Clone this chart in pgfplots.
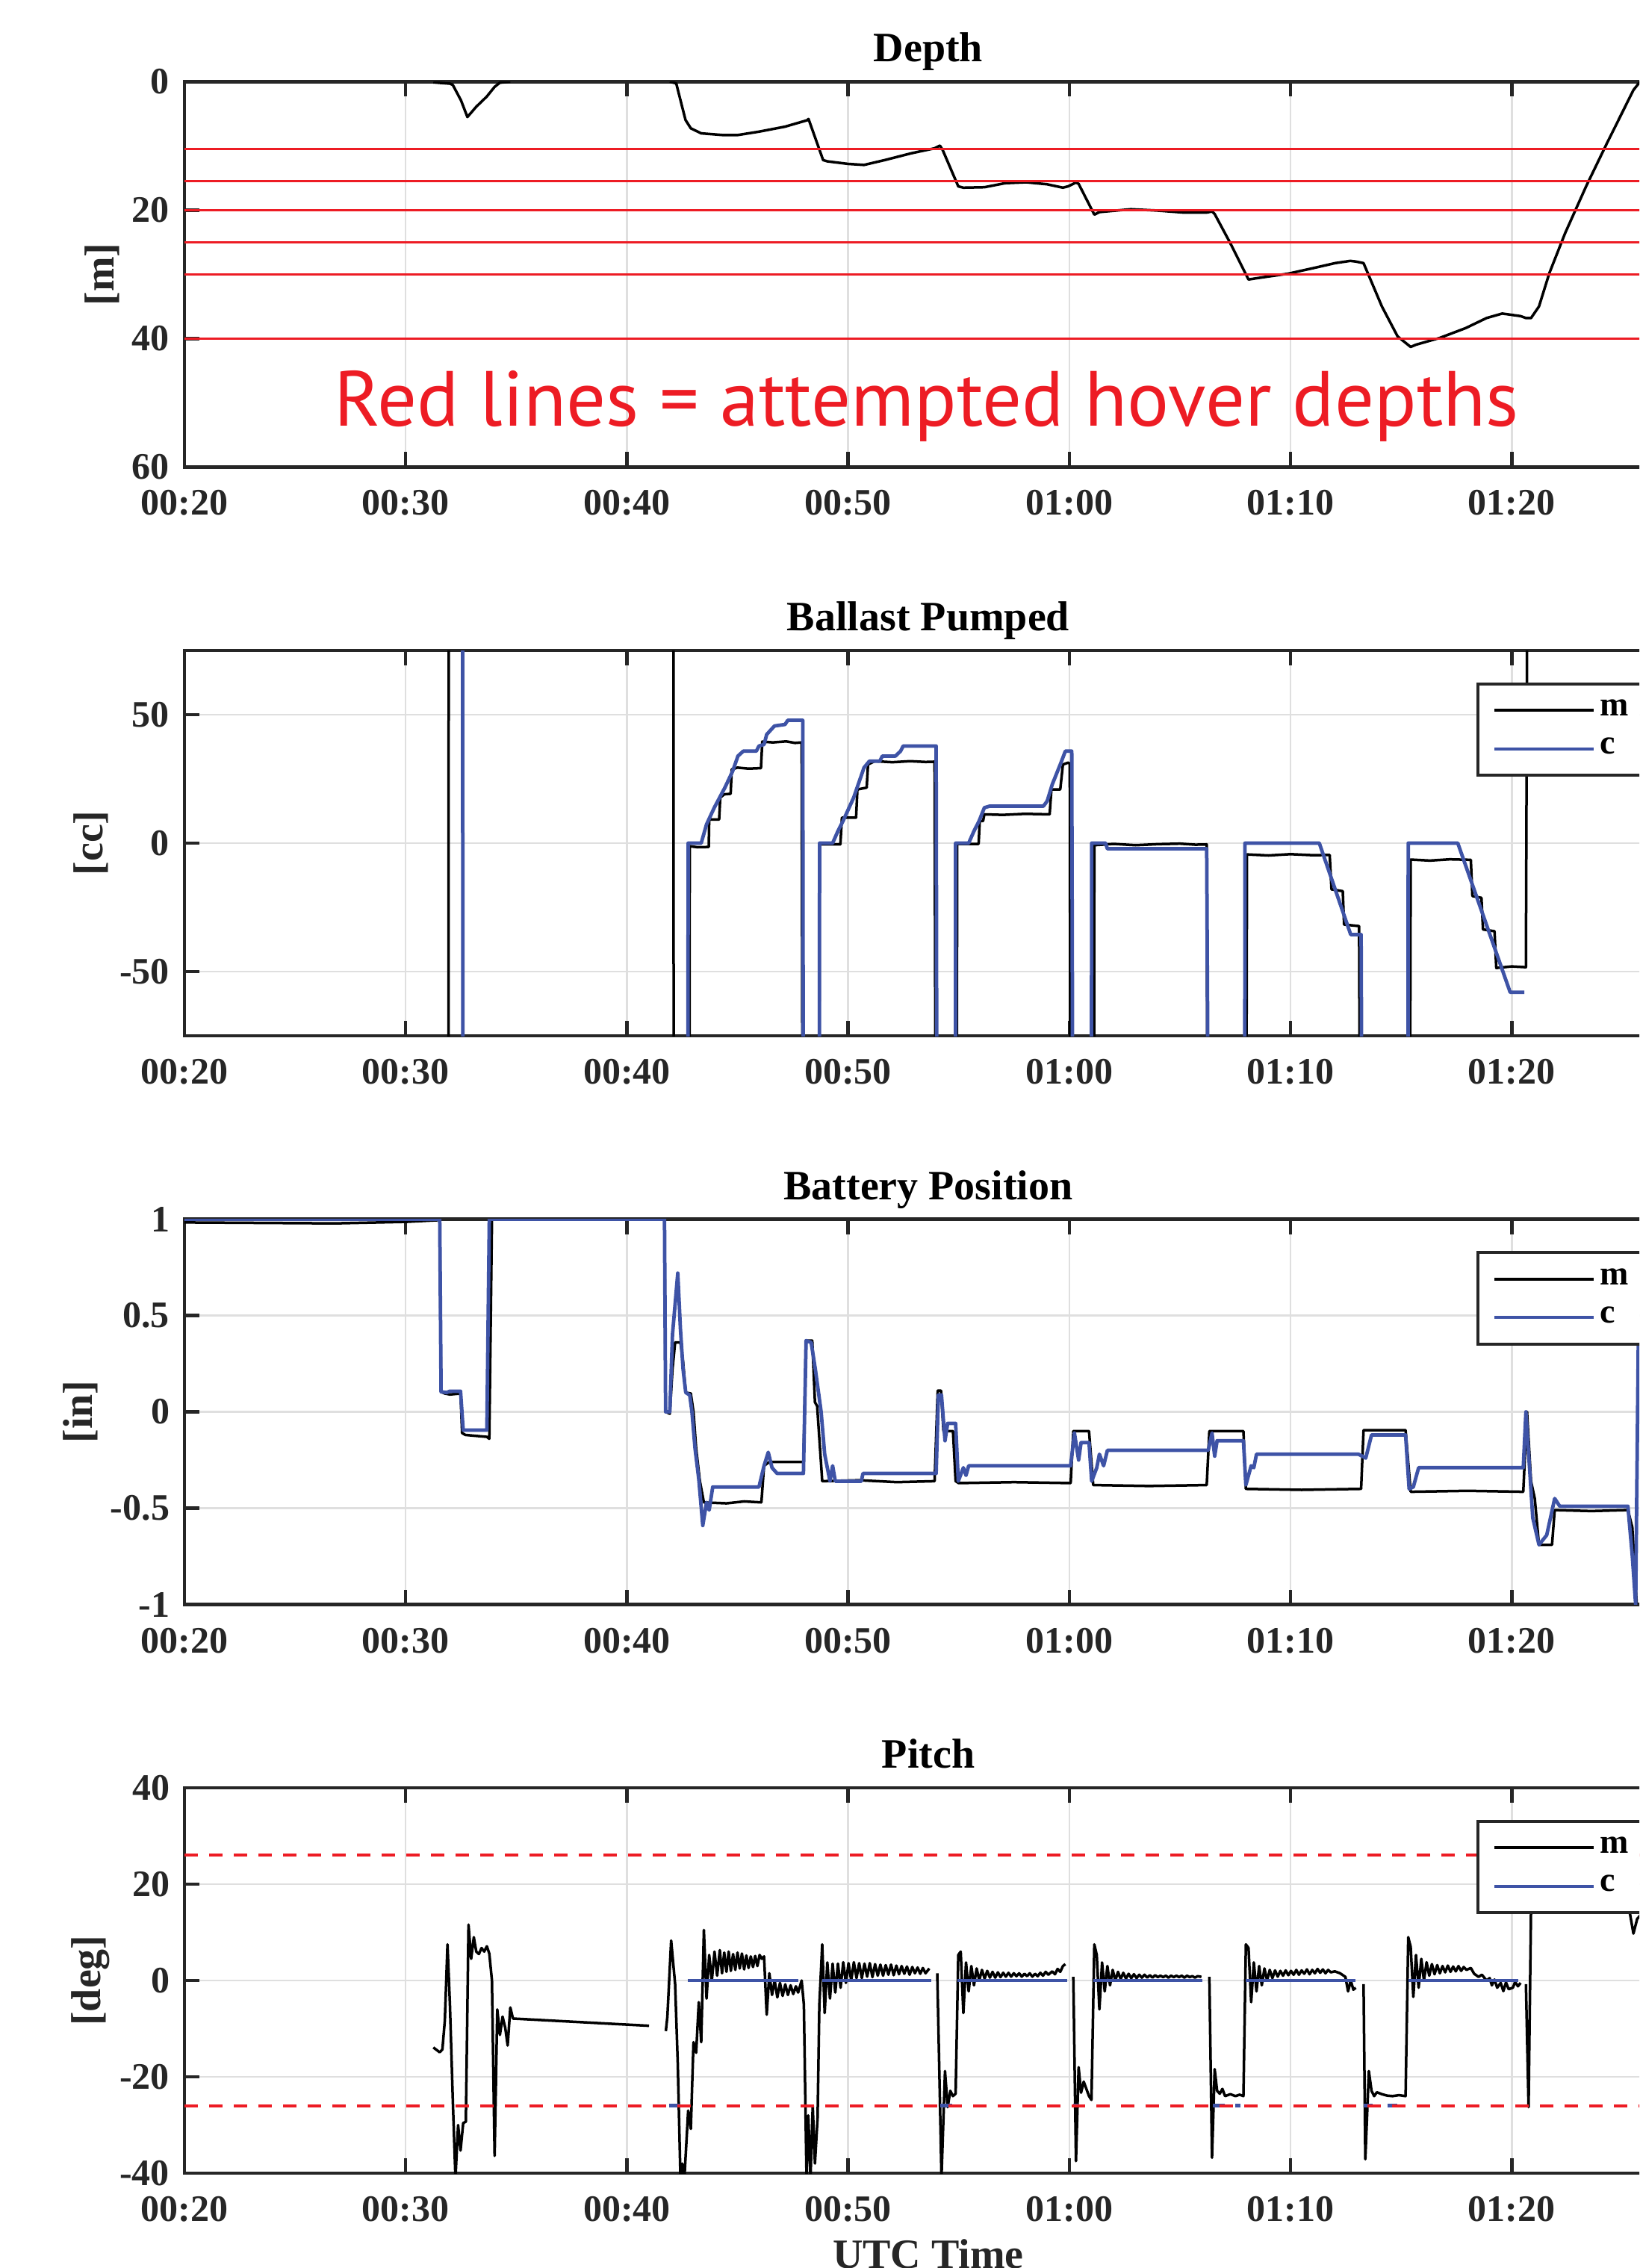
\documentclass[border=0pt]{standalone}
\usepackage{pgfplots}
\pgfplotsset{compat=1.18}
\usepackage{fontspec}
\setmainfont{Liberation Serif}
\newfontfamily\annfont{PT Sans}
\definecolor{axgray}{RGB}{38,38,38}
\definecolor{gridgray}{RGB}{223,223,223}
\definecolor{cblue}{RGB}{62,83,166}
\definecolor{annred}{RGB}{237,28,36}
\pgfplotsset{
  hov/.style={
    scale only axis, width=398.4pt, height=103.2pt, anchor=north west,
    xmin=20, xmax=87.25,
    xtick={20,30,40,50,60,70,80},
    xticklabels={00:20,00:30,00:40,00:50,01:00,01:10,01:20},
    tick pos=both, tick align=inside, major tick length=4pt,
    axis line style={color=axgray, line width=0.9pt},
    every tick/.style={color=axgray, line width=0.9pt},
    xmajorgrids, ymajorgrids,
    major grid style={color=gridgray, line width=0.5pt},
    tick label style={font=\fontsize{10}{12}\selectfont\bfseries, text=axgray},
    xticklabel style={anchor=base, yshift=-12.9pt},
    yticklabel style={anchor=east, inner sep=0pt, xshift=-3.8pt},
    every axis title/.style={font=\fontsize{11.2}{13}\selectfont\bfseries, at={(0.5,1)}, anchor=base, yshift=5.3pt},
    label style={font=\fontsize{11.2}{13}\selectfont\bfseries, text=axgray},
    ylabel style={anchor=center},
    unbounded coords=jump,
    legend style={at={(0.8685,0.917)}, anchor=north west, draw=axgray, line width=0.8pt, fill=white,
      font=\fontsize{9.2}{10}\selectfont\bfseries, inner xsep=4pt, inner ysep=3pt, row sep=2pt,
      nodes={inner sep=1.2pt}},
    legend cell align=left,
    legend image code/.code={\draw[#1, line width=0.8pt] (0pt,0pt) -- (26.6pt,0pt);},
  },
  mline/.style={black, line width=0.7pt, line join=round},
  cline/.style={cblue, line width=0.95pt, line join=round},
}
\begin{document}
\begin{tikzpicture}
\path[use as bounding box] (0,0) rectangle (439pt,-607.4pt);
\clip (0,0) rectangle (439pt,-607.4pt);

% ---------------- Depth
\begin{axis}[hov, at={(49.4pt,-21.88pt)}, y dir=reverse, ymin=0, ymax=60,
  ytick={0,20,40,60}, yticklabels={0,20,40,60}, title={Depth}, ylabel={[m]},
  ylabel style={at={(axis description cs:-0.0552,0.5)}}]
\addplot[mline] coordinates {
(31.25,0.1)(31.6,0.2)(32.0,0.3)(32.13,0.5)(32.5,2.9)(32.79,5.5)(33.19,3.9)(33.67,2.3)(34.02,0.8)(34.26,0.15)(34.73,0.0)
(38,nan)
(41.94,0)(42.23,0.26)(42.42,2.85)(42.65,5.96)(42.89,7.26)(43.36,8.04)(44.31,8.3)(45.02,8.3)(45.97,7.78)(47.15,7.0)(48.15,6.0)(48.21,5.8)(48.87,12.2)(49.06,12.4)(50.0,12.8)(50.72,12.96)(51.66,12.2)(52.85,11.15)(53.91,10.37)(54.15,9.95)(54.27,10.6)(54.98,16.3)(55.21,16.5)(56.16,16.43)(57.1,15.8)(58.05,15.66)(58.99,15.97)(59.71,16.5)(59.94,16.3)(60.3,15.7)(60.42,15.9)(61.13,20.7)(61.36,20.3)(62.78,19.86)(63.96,20.06)(65.15,20.37)(66.21,20.37)(66.45,20.2)(66.57,20.6)(67.27,25.1)(68.1,30.8)(68.46,30.6)(69.88,29.9)(71.06,29.0)(72.01,28.25)(72.7,27.9)(72.95,28.0)(73.3,28.25)(74.13,35.0)(74.84,39.66)(75.43,41.3)(75.67,40.95)(76.74,39.9)(77.92,38.36)(78.86,36.8)(79.57,36.1)(80.4,36.5)(80.64,36.8)(80.87,36.8)(81.23,35.0)(81.7,29.8)(82.41,23.6)(83.36,16.3)(84.3,9.6)(85.5,1.3)(85.8,0)
};
\addplot[annred, line width=0.5pt, forget plot] coordinates {(20,10.5)(90,10.5)};
\addplot[annred, line width=0.5pt, forget plot] coordinates {(20,15.5)(90,15.5)};
\addplot[annred, line width=0.5pt, forget plot] coordinates {(20,20)(90,20)};
\addplot[annred, line width=0.5pt, forget plot] coordinates {(20,25)(90,25)};
\addplot[annred, line width=0.5pt, forget plot] coordinates {(20,30)(90,30)};
\addplot[annred, line width=0.5pt, forget plot] coordinates {(20,40)(90,40)};
\node[anchor=base, text=annred, inner sep=0pt] at (axis cs:53.55,53.6)
  {\resizebox{317.2pt}{!}{\annfont\fontsize{20}{24}\selectfont Red lines = attempted hover depths}};
\end{axis}

% ---------------- Ballast
\begin{axis}[hov, at={(49.4pt,-174.2pt)}, ymin=-75, ymax=75,
  ytick={-50,0,50}, yticklabels={-50,0,50}, title={Ballast Pumped}, ylabel={[cc]},
  ylabel style={at={(axis description cs:-0.0628,0.5)}}]
\addplot[mline] coordinates {
(20,-200)(31.93,-200)(31.95,200)(42.1,200)(42.12,-200)(42.82,-200)(42.84,-1.2)(43.2,-1.6)(43.7,-1.5)(43.72,9.2)(44.17,9.2)(44.22,17.7)(44.4,19)(44.69,19.2)(44.74,28.7)(45.0,29.4)(45.5,29.0)(46.06,29.2)(46.12,39.5)(46.6,39.2)(47.2,39.6)(47.6,39.0)(47.9,39.2)(47.96,-200)
(48.69,-200)(48.71,0)(48.8,-0.5)(49.65,-0.5)(49.72,9.9)(50.36,9.9)(50.42,20.9)(50.84,21.6)(50.9,30.6)(51.2,31.9)(52.0,31.5)(52.8,31.9)(53.5,31.6)(53.91,31.7)(53.98,-200)
(54.9,-200)(54.93,-0.3)(55.9,-0.3)(55.95,8.6)(56.1,8.6)(56.16,11.2)(57.0,11.0)(58.0,11.4)(59.11,11.2)(59.19,20.9)(59.59,20.9)(59.71,30.6)(59.94,31.3)(60.02,31.0)(60.06,-200)
(61.1,-200)(61.13,-0.8)(62.0,-0.3)(63.0,-0.8)(64.0,-0.4)(65.0,-0.2)(65.7,-0.6)(66.21,-0.5)(66.26,-200)
(67.98,-200)(68.03,-4.4)(69.0,-4.8)(70.0,-4.3)(71.0,-4.7)(71.77,-4.6)(71.85,-18)(72.36,-18.7)(72.42,-31.7)(73.1,-32.3)(73.17,-200)
(75.38,-200)(75.43,-6.4)(76.3,-6.8)(77.2,-6.3)(78.15,-6.5)(78.22,-20.6)(78.63,-21.3)(78.7,-33.6)(79.22,-34.3)(79.3,-48.6)(80.0,-48.0)(80.64,-48.3)(80.74,200)
};
\addplot[cline] coordinates {
(20,200)(32.56,200)(32.6,-200)(42.75,-200)(42.77,0)(43.36,0)(43.6,7.3)(43.95,13.8)(44.43,21.6)(44.78,28)(45.02,33.9)(45.26,35.8)(45.85,35.8)(45.97,37.8)(46.2,38.4)(46.32,42.3)(46.67,45.6)(47.15,46.2)(47.27,47.8)(47.95,47.8)(47.99,-200)
(48.69,-200)(48.71,0)(49.3,0)(49.54,4.7)(49.77,8.6)(50.25,17.7)(50.72,29.4)(50.96,31.9)(51.43,31.9)(51.55,33.9)(52.14,33.9)(52.37,35.8)(52.49,37.8)(53.98,37.8)(54.03,-200)
(54.84,-200)(54.86,0)(55.45,0)(55.69,4.7)(55.92,8.6)(56.16,13.8)(56.4,14.4)(58.83,14.4)(59.0,16.4)(59.23,22.9)(59.59,30.6)(59.82,35.8)(60.11,35.8)(60.18,-200)
(60.99,-200)(61.01,0)(61.64,0)(61.72,-2.2)(66.21,-2.2)(66.33,-200)
(67.92,-200)(67.94,0)(71.3,0)(72.72,-35.6)(73.19,-35.6)(73.26,-200)
(75.3,-200)(75.32,0)(77.56,0)(79.93,-58.1)(80.57,-58.1)
};
\legend{m,c}
\end{axis}

% ---------------- Battery
\begin{axis}[hov, at={(49.4pt,-326.5pt)}, ymin=-1, ymax=1,
  ytick={-1,-0.5,0,0.5,1}, yticklabels={-1,-0.5,0,0.5,1}, title={Battery Position}, ylabel={[in]},
  ylabel style={at={(axis description cs:-0.0700,0.5)}}]
\addplot[mline] coordinates {
(20,0.983)(26.8,0.978)(30.0,0.986)(31.54,0.995)(31.6,0.104)(31.77,0.095)(32.0,0.09)(32.48,0.095)(32.55,-0.11)(32.7,-0.12)(33.67,-0.13)(33.78,-0.14)(33.9,1.0)(41.7,1.0)(41.75,0.0)(41.94,-0.01)(42.06,0.22)(42.18,0.36)(42.42,0.36)(42.54,0.26)(42.66,0.1)(42.89,0.095)(43.01,0.0)(43.13,-0.19)(43.3,-0.36)(43.48,-0.47)(44.5,-0.475)(45.3,-0.465)(46.08,-0.47)(46.2,-0.28)(46.44,-0.26)(47.98,-0.26)(48.1,0.37)(48.38,0.37)(48.5,0.05)(48.6,0.03)(48.83,-0.36)(50.5,-0.355)(52.2,-0.365)(53.91,-0.36)(54.05,0.11)(54.2,0.11)(54.31,-0.1)(54.74,-0.1)(54.86,-0.36)(55.0,-0.37)(57.5,-0.365)(60.06,-0.37)(60.18,-0.1)(60.89,-0.1)(61.08,-0.38)(63.6,-0.385)(66.21,-0.38)(66.33,-0.1)(67.87,-0.1)(67.98,-0.4)(70.5,-0.405)(73.19,-0.4)(73.3,-0.095)(75.2,-0.095)(75.43,-0.415)(78.0,-0.41)(80.52,-0.415)(80.69,0.0)(80.87,-0.36)(81.04,-0.45)(81.23,-0.69)(81.82,-0.69)(81.94,-0.51)(83.6,-0.515)(85.25,-0.51)(85.45,-0.6)(85.65,-1.0)
};
\addplot[cline] coordinates {
(20,1)(31.54,1)(31.6,0.104)(31.85,0.1)(32.0,0.107)(32.48,0.107)(32.6,-0.095)(33.67,-0.095)(33.78,1)(41.7,1)(41.75,0)(41.94,0)(42.06,0.4)(42.3,0.72)(42.42,0.43)(42.54,0.22)(42.66,0.1)(42.84,0.087)(42.94,0)(43.08,-0.19)(43.25,-0.35)(43.43,-0.59)(43.6,-0.47)(43.72,-0.51)(43.88,-0.39)(45.97,-0.39)(46.2,-0.28)(46.39,-0.21)(46.56,-0.29)(46.79,-0.32)(47.98,-0.32)(48.1,0.37)(48.33,0.36)(48.52,0.22)(48.78,0)(48.94,-0.22)(49.06,-0.29)(49.18,-0.36)(49.3,-0.28)(49.42,-0.36)(50.6,-0.36)(50.67,-0.32)(53.98,-0.32)(54.08,0.087)(54.22,0.087)(54.38,-0.15)(54.5,-0.06)(54.86,-0.06)(54.98,-0.36)(55.21,-0.29)(55.33,-0.33)(55.45,-0.28)(60.06,-0.28)(60.23,-0.11)(60.42,-0.25)(60.53,-0.16)(60.89,-0.16)(61.01,-0.36)(61.24,-0.29)(61.36,-0.22)(61.55,-0.28)(61.72,-0.2)(66.28,-0.2)(66.45,-0.11)(66.57,-0.23)(66.68,-0.15)(67.87,-0.15)(67.98,-0.38)(68.22,-0.28)(68.34,-0.29)(68.46,-0.22)(73.07,-0.22)(73.4,-0.24)(73.66,-0.12)(75.2,-0.12)(75.36,-0.4)(75.55,-0.39)(75.79,-0.29)(80.52,-0.29)(80.64,0.0)(80.87,-0.41)(80.95,-0.55)(81.23,-0.69)(81.58,-0.64)(81.94,-0.45)(82.17,-0.49)(85.25,-0.49)(85.45,-0.75)(85.6,-1.0)(85.72,0.36)
};
\legend{m,c}
\end{axis}

% ---------------- Pitch
\begin{axis}[hov, at={(49.4pt,-478.8pt)}, ymin=-40, ymax=40,
  ytick={-40,-20,0,20,40}, yticklabels={-40,-20,0,20,40}, title={Pitch}, ylabel={[deg]},
  ylabel style={at={(axis description cs:-0.0629,0.5)}},
  xlabel={UTC Time}, xlabel style={at={(axis description cs:0.5,0)}, anchor=base, yshift=-25.4pt}]
\addplot[mline] coordinates {
(31.25,-13.9)(31.54,-14.9)(31.66,-14.3)(31.77,-8.3)(31.89,7.5)(32.0,-5)(32.13,-24.8)(32.25,-41)(32.37,-30)(32.48,-35.3)(32.6,-29.6)(32.72,-29.3)(32.84,11.6)(32.96,4.5)(33.08,9)(33.19,6)(33.31,5.5)(33.43,6.75)(33.55,6)(33.67,7.1)(33.78,5.6)(33.9,0)(34.02,-36.4)(34.14,-6)(34.26,-11.3)(34.38,-7.5)(34.5,-9.8)(34.61,-13.5)(34.73,-5.6)(34.85,-7.9)(41.0,-9.4)
(41.3,nan)
(41.76,-10.5)(41.83,-7.5)(42.0,8.3)(42.18,-0.75)(42.3,-17.3)(42.42,-41)(42.5,-38)(42.6,-41)(42.77,-27)(42.89,-30.8)(43.01,-12.8)(43.13,-15)(43.25,-4.5)(43.36,-12.8)(43.48,10.5)(43.6,-3.75)(43.72,5.3)(43.84,0)(43.96,6)(44.08,1)(44.2,6.3)(44.3,1.5)(44.4,5.8)(44.5,1.8)(44.6,6.0)(44.7,2.0)(44.8,5.5)(44.9,2.2)(45.0,5.8)(45.1,2.5)(45.2,5.6)(45.3,2.3)(45.4,5.2)(45.5,2.6)(45.6,5.0)(45.7,2.8)(45.8,5.1)(45.9,3.0)(46.0,5.3)(46.1,4.5)(46.2,5.0)(46.32,-7.1)(46.44,1.5)(46.56,-3)(46.68,0)(46.8,-3.5)(46.92,-0.5)(47.04,-3.2)(47.16,-0.8)(47.28,-3)(47.4,-1)(47.52,-2.8)(47.64,-1.2)(47.74,-2.5)(47.9,0)(48.0,-5)(48.12,-41)(48.2,-28)(48.3,-41)(48.4,-26)(48.5,-38)(48.62,-28.5)(48.7,-5)(48.83,7.5)(48.94,-6.75)(49.06,3.75)(49.18,-3.75)(49.3,3.5)(49.42,-2.5)(49.54,3.5)(49.66,-1.5)(49.78,3.8)(49.9,-0.5)(50.02,3.6)(50.14,0)(50.26,3.8)(50.38,0.5)(50.5,3.6)(50.62,0.5)(50.74,3.5)(50.86,0.8)(50.98,3.6)(51.1,0.7)(51.22,3.4)(51.34,1)(51.46,3.3)(51.58,1)(51.7,3.2)(51.82,1.2)(51.94,3.3)(52.06,1.1)(52.18,3.1)(52.3,1.3)(52.42,3)(52.54,1.4)(52.66,2.9)(52.78,1.2)(52.9,2.8)(53.02,1.5)(53.14,2.7)(53.26,1.4)(53.38,2.6)(53.5,1.5)(53.67,2.5)
(53.85,nan)
(54.03,1.5)(54.15,-24.8)(54.22,-41)(54.38,-18.8)(54.5,-26.3)(54.62,-22.9)(54.74,-24)(54.86,-23.5)(54.98,5.3)(55.09,6)(55.21,-6.75)(55.33,3.75)(55.45,-2.25)(55.57,3)(55.69,-1)(55.81,2.5)(55.93,0)(56.05,2.2)(56.17,0.4)(56.29,2.0)(56.41,0.6)(56.53,1.8)(56.65,0.6)(56.77,1.7)(56.89,0.7)(57.01,1.6)(57.13,0.8)(57.25,1.6)(57.37,0.8)(57.49,1.5)(57.61,0.9)(57.73,1.5)(57.85,0.8)(57.97,1.4)(58.09,0.9)(58.21,1.5)(58.33,0.8)(58.45,1.4)(58.57,0.9)(58.69,1.6)(58.81,1.0)(58.93,1.8)(59.05,1.2)(59.23,1.9)(59.35,1.3)(59.47,2.4)(59.59,1.8)(59.71,3.0)(59.82,3.4)
(60.0,nan)
(60.18,0.75)(60.3,-37.5)(60.42,-18)(60.53,-23.3)(60.65,-21)(60.77,-22.5)(60.89,-24)(61.0,-24.8)(61.13,7.5)(61.24,5.3)(61.36,-6)(61.48,3.75)(61.6,-2.25)(61.72,3)(61.84,-1)(61.96,2.2)(62.08,0)(62.2,1.8)(62.32,0.3)(62.44,1.6)(62.56,0.4)(62.68,1.4)(62.8,0.5)(62.92,1.3)(63.04,0.5)(63.16,1.2)(63.28,0.6)(63.4,1.2)(63.52,0.6)(63.64,1.1)(63.76,0.6)(63.88,1.1)(64.0,0.7)(64.12,1.0)(64.24,0.7)(64.36,1.0)(64.48,0.6)(64.6,1.0)(64.72,0.7)(64.84,1.0)(64.96,0.7)(65.08,1.0)(65.2,0.6)(65.32,1.0)(65.44,0.7)(65.56,0.9)(65.68,0.6)(65.8,0.9)(65.97,0.75)
(66.15,nan)
(66.33,0.75)(66.45,-36.8)(66.57,-18.4)(66.68,-22.9)(66.8,-23.5)(66.92,-22.5)(67.04,-24)(67.28,-23.6)(67.51,-24)(67.7,-23.7)(67.87,-24)(67.98,7.5)(68.1,6.75)(68.22,-4.5)(68.34,3.75)(68.46,-2.25)(68.58,3)(68.7,-1)(68.82,2.5)(68.94,0)(69.06,2.2)(69.18,0.5)(69.3,2.1)(69.42,0.8)(69.54,2.0)(69.66,1.0)(69.78,2.1)(69.9,1.1)(70.02,2.0)(70.14,1.2)(70.26,2.2)(70.38,1.2)(70.5,2.1)(70.62,1.4)(70.74,2.3)(70.86,1.3)(70.98,2.2)(71.1,1.5)(71.22,2.4)(71.34,1.6)(71.46,2.3)(71.58,1.5)(71.7,2.2)(71.82,1.7)(72.0,1.9)(72.24,1.5)(72.48,0.75)(72.6,-2.25)(72.72,0)(72.84,-1.9)(72.95,-1.5)
(73.1,nan)
(73.3,-0.75)(73.38,-37.1)(73.54,-18.8)(73.66,-22.9)(73.78,-24)(73.9,-23.2)(74.13,-23.6)(74.37,-23.9)(74.61,-24)(74.9,-23.8)(75.2,-24)(75.32,9)(75.43,7)(75.55,-3.4)(75.67,5.3)(75.79,-1.5)(75.91,4.5)(76.03,0)(76.15,3.8)(76.27,1)(76.39,3.4)(76.51,1.3)(76.63,3.2)(76.75,1.5)(76.87,3.0)(76.99,1.7)(77.11,3.1)(77.23,1.8)(77.35,2.9)(77.47,1.9)(77.59,3.0)(77.71,2.0)(77.83,2.8)(77.95,2.2)(78.15,2.6)(78.3,1.4)(78.5,0.75)(78.65,1.2)(78.86,0)(79.0,0.5)(79.1,-1)(79.22,0.2)(79.34,-1.5)(79.5,-0.5)(79.62,-2.2)(79.74,-0.4)(79.86,-1.8)(80.05,-1.5)(80.15,-0.3)(80.28,-1.2)(80.4,-0.5)
(80.52,nan)
(80.64,-0.75)(80.76,-26.3)(80.87,14.5)(81.0,22)(81.5,24)(82.5,23)(83.5,24)(84.5,22)(85.1,20)(85.3,15)(85.5,9.75)(85.67,12.8)(85.9,14)
};
\addplot[cline] coordinates {
(41.9,-26)(42.37,-26)(42.5,nan)(42.77,0)(47.74,0)(48.2,nan)(48.83,0)(53.75,0)(53.9,nan)(54.15,-26)(54.69,-26)(54.8,nan)(54.93,0)(59.9,0)(60.0,nan)(60.18,-26)(60.42,-26)(60.6,nan)(61.08,0)(66.02,0)(66.2,nan)(66.5,-26)(67.04,-26)(67.2,nan)(67.51,-26)(67.75,-26)(67.85,nan)(67.98,0)(72.95,0)(73.1,nan)(73.3,-26)(73.7,-26)(73.9,nan)(74.37,-26)(74.84,-26)(75.0,nan)(75.32,0)(80.28,0)
};
\addplot[annred, line width=0.8pt, dash pattern=on 3.5pt off 3.1pt, forget plot] coordinates {(20,26)(90,26)};
\addplot[annred, line width=0.8pt, dash pattern=on 3.5pt off 3.1pt, forget plot] coordinates {(20,-26)(90,-26)};
\legend{m,c}
\end{axis}
\end{tikzpicture}
\end{document}
